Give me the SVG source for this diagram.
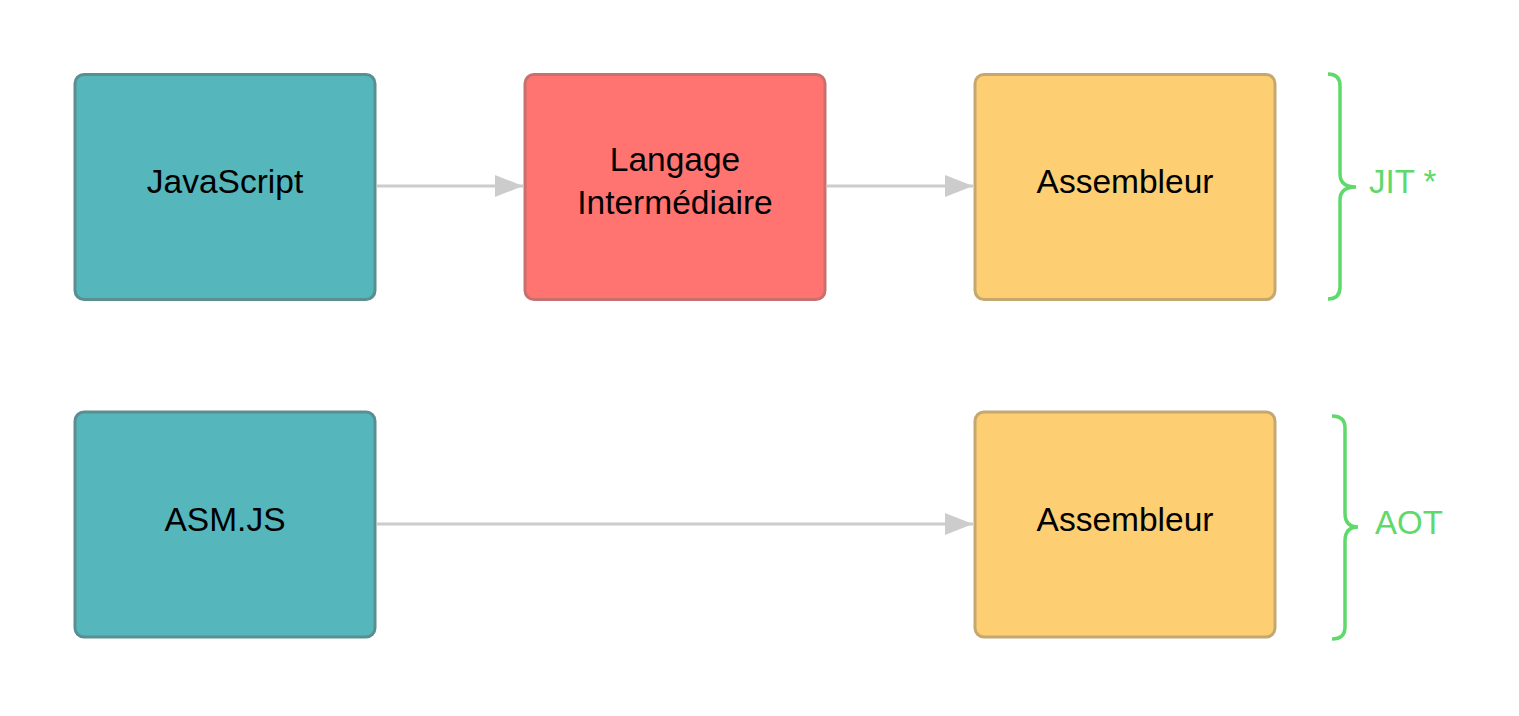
<svg xmlns="http://www.w3.org/2000/svg" width="1519" height="716" viewBox="0 0 1519 716">
<defs>
<marker id="ah" viewBox="0 0 28 22" refX="28" refY="11" markerWidth="28" markerHeight="22" markerUnits="userSpaceOnUse" orient="auto">
<path d="M0,0 L28,11 L0,22 Z" fill="#cccccc"/>
</marker>
<style>
.box{stroke-width:3}
.teal{fill:#55b6bb;stroke:#5a8f92}
.red{fill:#ff7470;stroke:#c8706f}
.yel{fill:#fdcf72;stroke:#c4a870}
.lbl{font-family:"Liberation Sans",Arial,sans-serif;font-size:33.5px;fill:#000;text-anchor:middle}
.conn{stroke:#cccccc;stroke-width:3;fill:none}
.brace{stroke:#5fd96a;stroke-width:3.5;fill:none}
.gtx{font-family:"Liberation Sans",Arial,sans-serif;font-size:33px;fill:#5fd96a}
</style>
</defs>
<rect width="1519" height="716" fill="#ffffff"/>
<g id="connectors">
<line class="conn" x1="377" y1="186" x2="523" y2="186" marker-end="url(#ah)"/>
<line class="conn" x1="827" y1="186" x2="973" y2="186" marker-end="url(#ah)"/>
<line class="conn" x1="377" y1="524" x2="973" y2="524" marker-end="url(#ah)"/>
</g>
<g id="javascript">
<rect class="box teal" x="75" y="74.5" width="300" height="225" rx="9"/>
<text class="lbl" x="225" y="193">JavaScript</text>
</g>
<g id="langage">
<rect class="box red" x="525" y="74.5" width="300" height="225" rx="9"/>
<text class="lbl" x="675" y="171">Langage</text>
<text class="lbl" x="675" y="214">Intermédiaire</text>
</g>
<g id="assembleur1">
<rect class="box yel" x="975" y="74.5" width="300" height="225" rx="9"/>
<text class="lbl" x="1125" y="193">Assembleur</text>
</g>
<g id="asmjs">
<rect class="box teal" x="75" y="412" width="300" height="225" rx="9"/>
<text class="lbl" x="225" y="531">ASM.JS</text>
</g>
<g id="assembleur2">
<rect class="box yel" x="975" y="412" width="300" height="225" rx="9"/>
<text class="lbl" x="1125" y="531">Assembleur</text>
</g>
<g id="jit">
<path class="brace" d="M1328,74 Q1340,74 1340,86 L1340,174 Q1340,187 1356,187 Q1340,187 1340,200 L1340,287 Q1340,299 1328,299"/>
<text class="gtx" x="1369" y="193">JIT *</text>
</g>
<g id="aot">
<path class="brace" d="M1332,416 Q1345,416 1345,428 L1345,513 Q1345,527 1358,527 Q1345,527 1345,541 L1345,627 Q1345,639 1332,639"/>
<text class="gtx" x="1375" y="534">AOT</text>
</g>
</svg>
